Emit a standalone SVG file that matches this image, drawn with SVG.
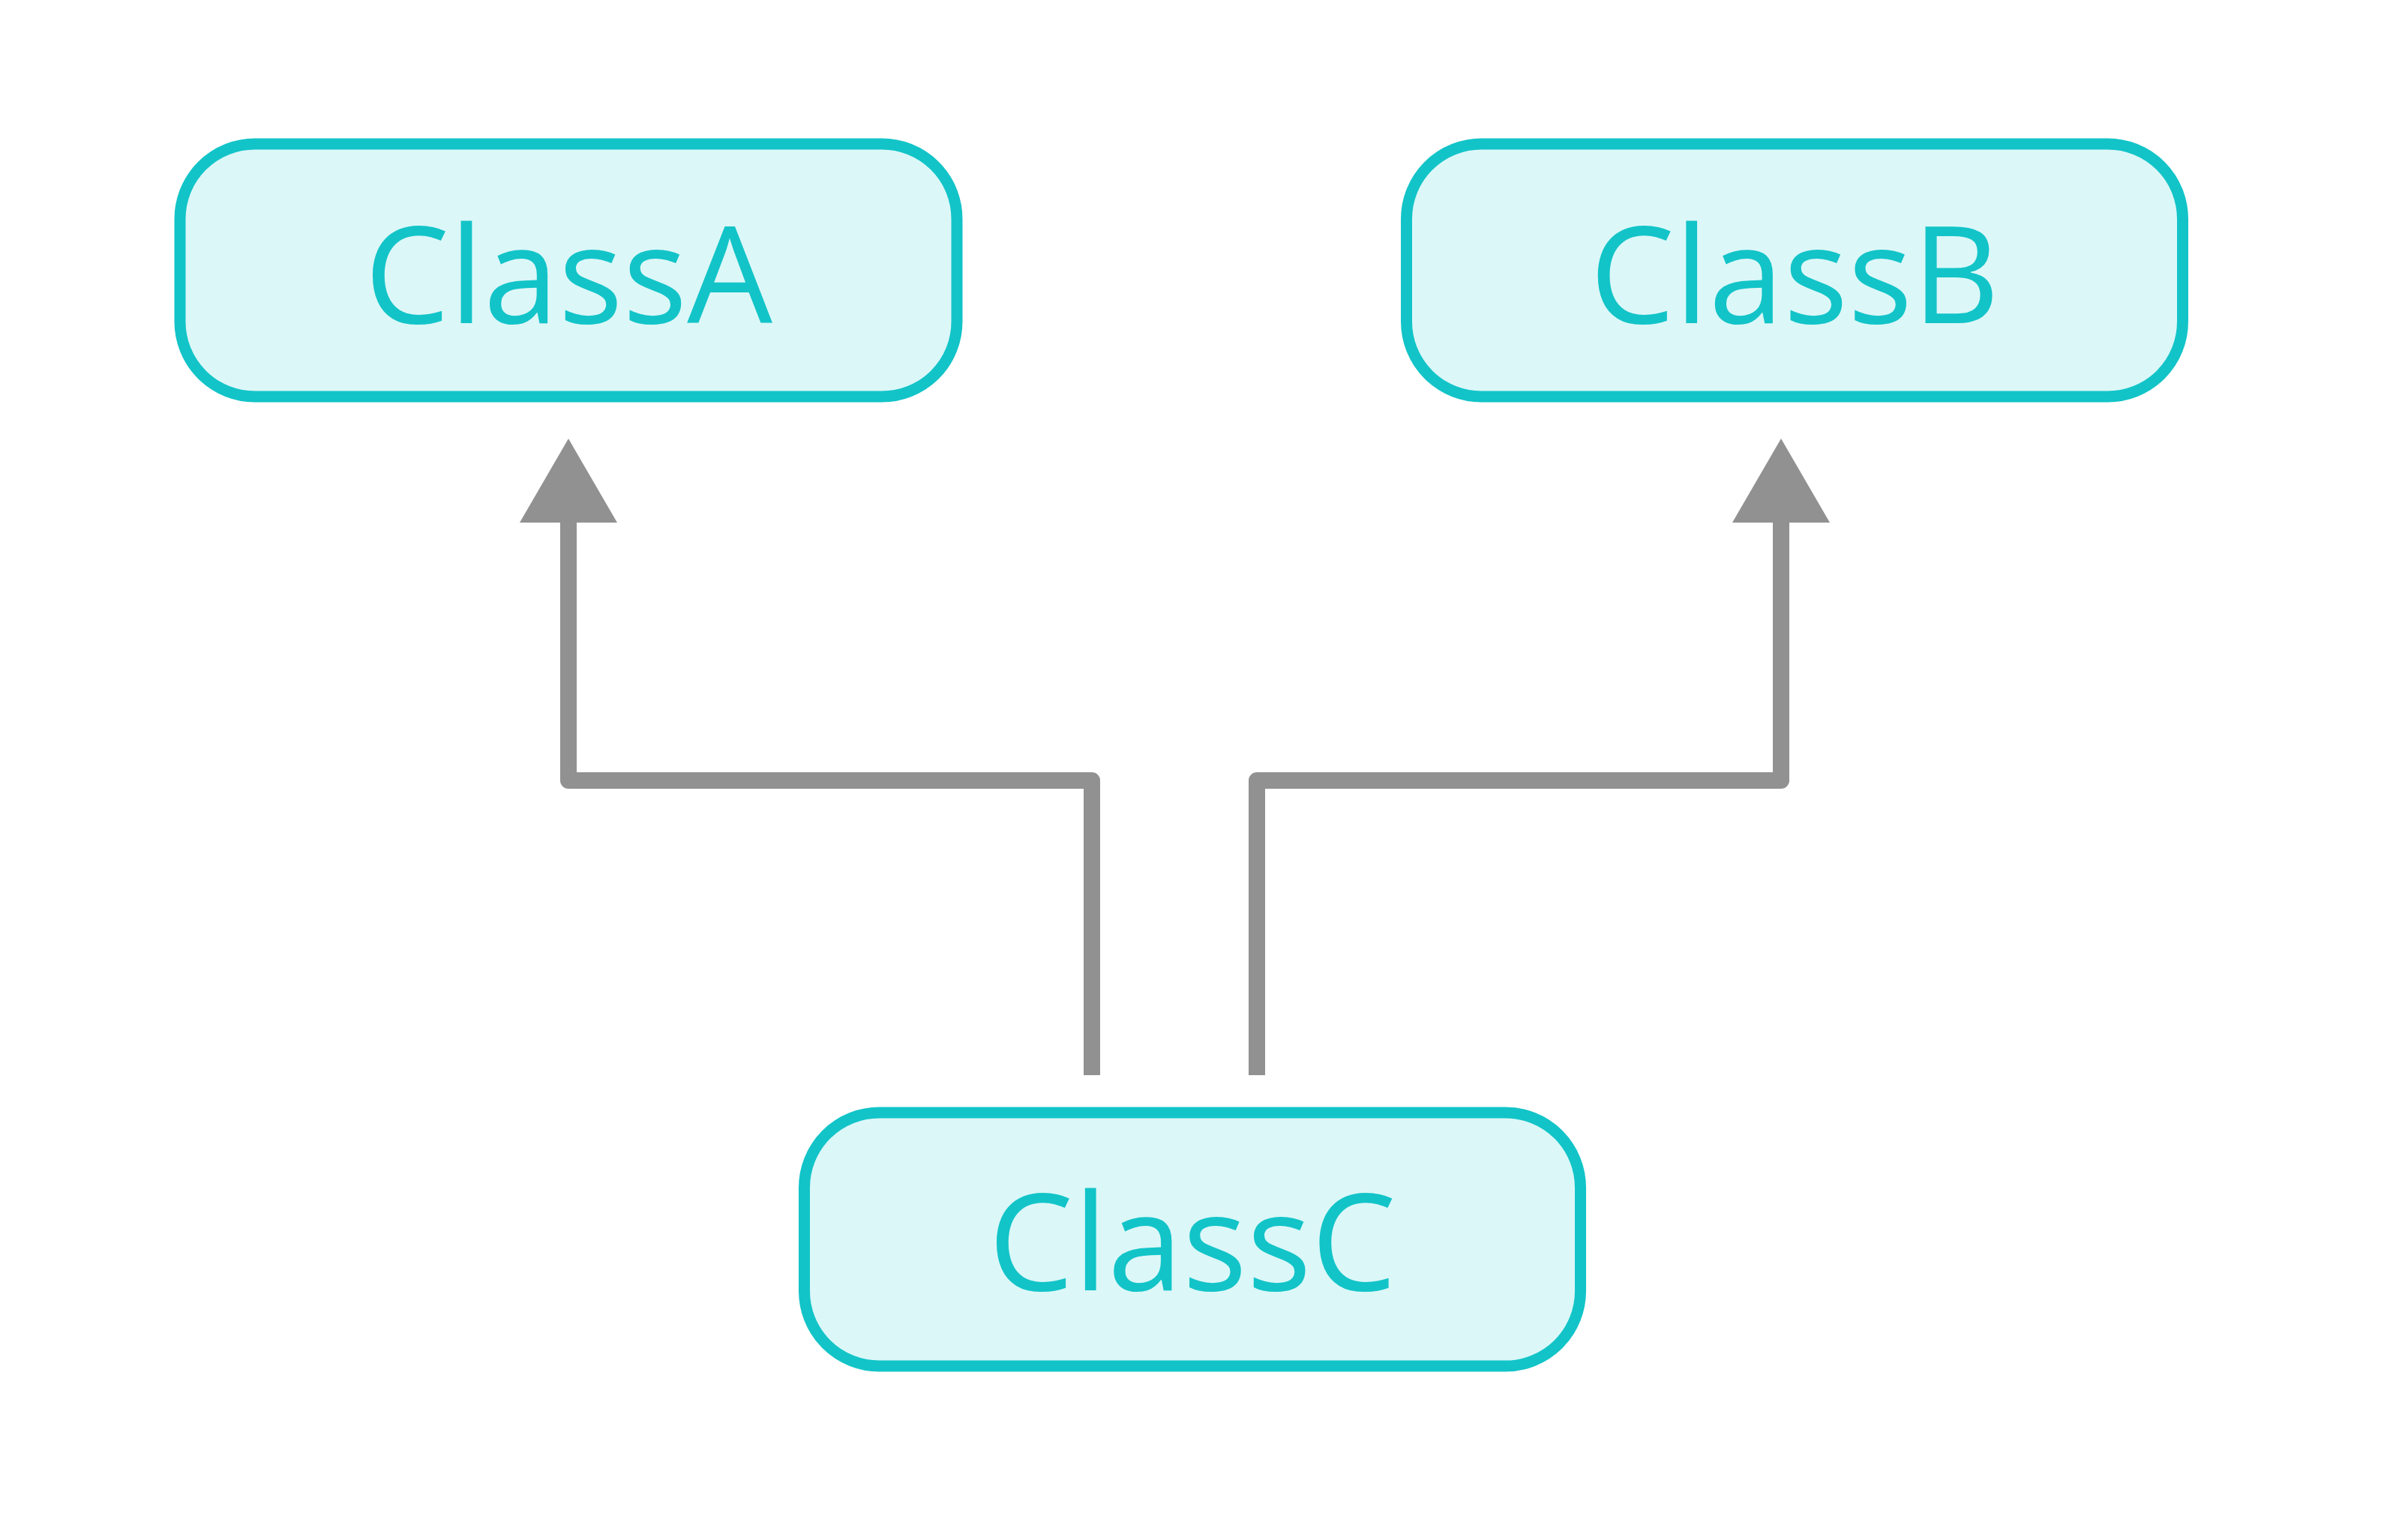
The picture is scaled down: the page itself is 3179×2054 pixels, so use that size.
<svg xmlns="http://www.w3.org/2000/svg" width="3179" height="2054" viewBox="0 0 3179 2054">
  <style>
    .node rect { fill: #DCF7F8; stroke: #12C4C8; stroke-width: 15; }
    .node text { font-family: "Open Sans", "Liberation Sans", sans-serif; font-size: 180px; font-weight: 400; fill: #12C4C8; text-anchor: middle; }
    .edge { fill: none; stroke: #919191; stroke-width: 22; stroke-linejoin: round; stroke-linecap: butt; marker-end: url(#tri); }
  </style>
  <defs>
    <marker id="tri" viewBox="0 0 112 130" markerWidth="112" markerHeight="130" markerUnits="userSpaceOnUse" orient="auto" refX="0" refY="65">
      <path d="M0,0 L112,65 L0,130 Z" fill="#919191"/>
    </marker>
  </defs>
  <rect width="3179" height="2054" fill="#FFFFFF"/>
  <g id="connectors">
    <path class="edge" d="M1456,1434 V1041 H758 V697"/>
    <path class="edge" d="M1676,1434 V1041 H2375 V697"/>
  </g>
  <g id="ClassA" class="node">
    <rect x="240" y="192" width="1036" height="337" rx="100" ry="100"/>
    <text x="758" y="431">ClassA</text>
  </g>
  <g id="ClassB" class="node">
    <rect x="1875.5" y="192" width="1035" height="337" rx="100" ry="100"/>
    <text x="2393" y="431">ClassB</text>
  </g>
  <g id="ClassC" class="node">
    <rect x="1072.5" y="1484" width="1035" height="338" rx="100" ry="100"/>
    <text x="1590" y="1721">ClassC</text>
  </g>
</svg>
